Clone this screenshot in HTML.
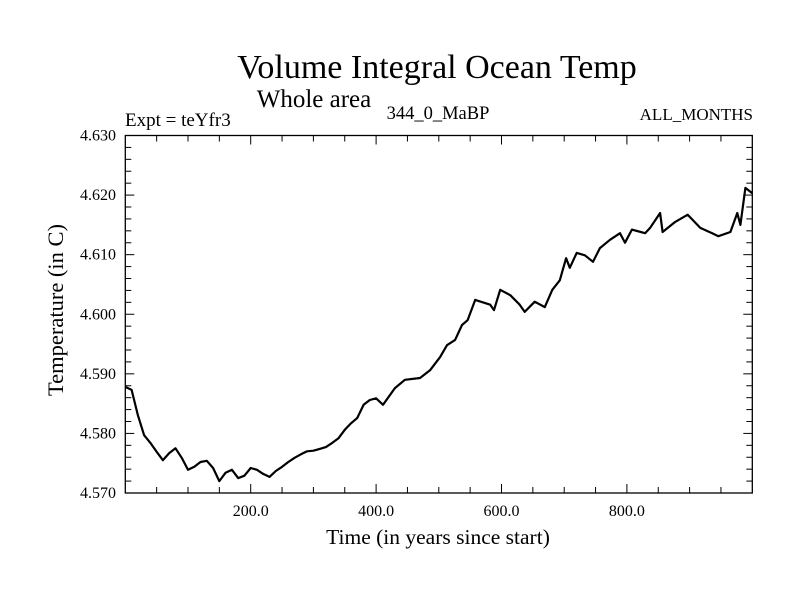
<!DOCTYPE html>
<html><head><meta charset="utf-8"><style>
body{margin:0;background:#fff}
svg{display:block;font-family:"Liberation Serif",serif}
</style></head><body>
<svg id="chart" width="800" height="600">
<text x="437" y="78" font-size="34" text-anchor="middle">Volume Integral Ocean Temp</text>
<text x="314" y="107" font-size="25" text-anchor="middle">Whole area</text>
<text x="125" y="126" font-size="19">Expt = teYfr3</text>
<text x="438" y="119" font-size="18.5" text-anchor="middle">344_0_MaBP</text>
<text x="753" y="120" font-size="17" text-anchor="end">ALL_MONTHS</text>
<text x="438" y="544" font-size="21.5" text-anchor="middle">Time (in years since start)</text>
<text transform="translate(63,310) rotate(-90)" font-size="22.5" text-anchor="middle">Temperature (in C)</text>
<g id="axes"></g>
<path id="line" fill="none" stroke="#000" stroke-width="2.2" stroke-linejoin="round"></path>
<rect x="125.3" y="135.5" width="627" height="357.5" fill="none" stroke="#000" stroke-width="1.3"></rect>
</svg>
<script>
const years=[0,10,20,30,40,50,60,70,80,90,100,110,120,130,140,150,160,170,180,190,200,210,220,230,240,250,260,270,280,290,300,310,320,330,340,350,360,370,380,390,400,411,430,446,470,486,502,513,526,537,546,558,582,588,598,614,629,637,653,669,681,693,703,709,720,733,746,757,773,789,797,808,829,837,853,857,877,897,917,936,946,965,976,981,989,1000];
const temps=[4.5878,4.5873,4.5831,4.5797,4.5784,4.5769,4.5755,4.5767,4.5775,4.5759,4.5739,4.5744,4.5752,4.5754,4.5742,4.5720,4.5734,4.5739,4.5725,4.5729,4.5742,4.5739,4.5732,4.5727,4.5737,4.5744,4.5752,4.5759,4.5765,4.5770,4.5771,4.5774,4.5777,4.5784,4.5792,4.5806,4.5817,4.5826,4.5848,4.5856,4.5859,4.5848,4.5876,4.5890,4.5893,4.5906,4.5928,4.5948,4.5957,4.5982,4.5990,4.6024,4.6016,4.6007,4.6041,4.6032,4.6016,4.6004,4.6021,4.6012,4.6041,4.6057,4.6094,4.6078,4.6103,4.6099,4.6088,4.6111,4.6125,4.6136,4.6120,4.6142,4.6136,4.6145,4.6170,4.6138,4.6155,4.6167,4.6145,4.6136,4.6131,4.6138,4.6170,4.6150,4.6212,4.6203];
const xTickLabels=["200.0","400.0","600.0","800.0"];
const xTickValues=[200,400,600,800];
const yTickLabels=["4.570","4.580","4.590","4.600","4.610","4.620","4.630"];
const yTickValues=[4.570,4.580,4.590,4.600,4.610,4.620,4.630];
const X0=125.3,X1=752.3,Y0=493,Y1=135.5,XMIN=0,XMAX=1000,YMIN=4.570,YMAX=4.630;
const sx=v=>X0+(v-XMIN)/(XMAX-XMIN)*(X1-X0);
const sy=v=>Y0-(v-YMIN)/(YMAX-YMIN)*(Y0-Y1);
const NS="http://www.w3.org/2000/svg";
const axes=document.getElementById('axes');
function ln(x1,y1,x2,y2,name){const l=document.createElementNS(NS,'line');
l.setAttribute('x1',x1);l.setAttribute('y1',y1);l.setAttribute('x2',x2);l.setAttribute('y2',y2);
l.setAttribute('stroke','#000');l.setAttribute('stroke-width','1');


axes.appendChild(l);}
function tx(x,y,s,anchor,name){const t=document.createElementNS(NS,'text');
t.setAttribute('x',x);t.setAttribute('y',y);t.setAttribute('font-size','16');t.setAttribute('text-anchor',anchor);t.textContent=s;


axes.appendChild(t);}
for(let v=50;v<1000;v+=50){const major=v%200===0;const L=major?9:6;const x=sx(v);
ln(x,Y0,x,Y0-L,'x-tick');ln(x,Y1,x,Y1+L,'x-tick-top');}
for(let i=1;i<30;i++){const v=YMIN+i*0.002;const major=i%5===0;const L=major?9:6;const y=sy(v);
ln(X0,y,X0+L,y,'y-tick');ln(X1,y,X1-L,y,'y-tick-right');}
xTickValues.forEach((v,i)=>tx(sx(v),516,xTickLabels[i],'middle','x-tick-label'));
yTickValues.forEach((v,i)=>tx(116,sy(v)+5,yTickLabels[i],'end','y-tick-label'));
document.getElementById('line').setAttribute('d',years.map((y,i)=>(i?'L':'M')+sx(y).toFixed(1)+','+sy(temps[i]).toFixed(1)).join(''));
</script>
</body></html>
